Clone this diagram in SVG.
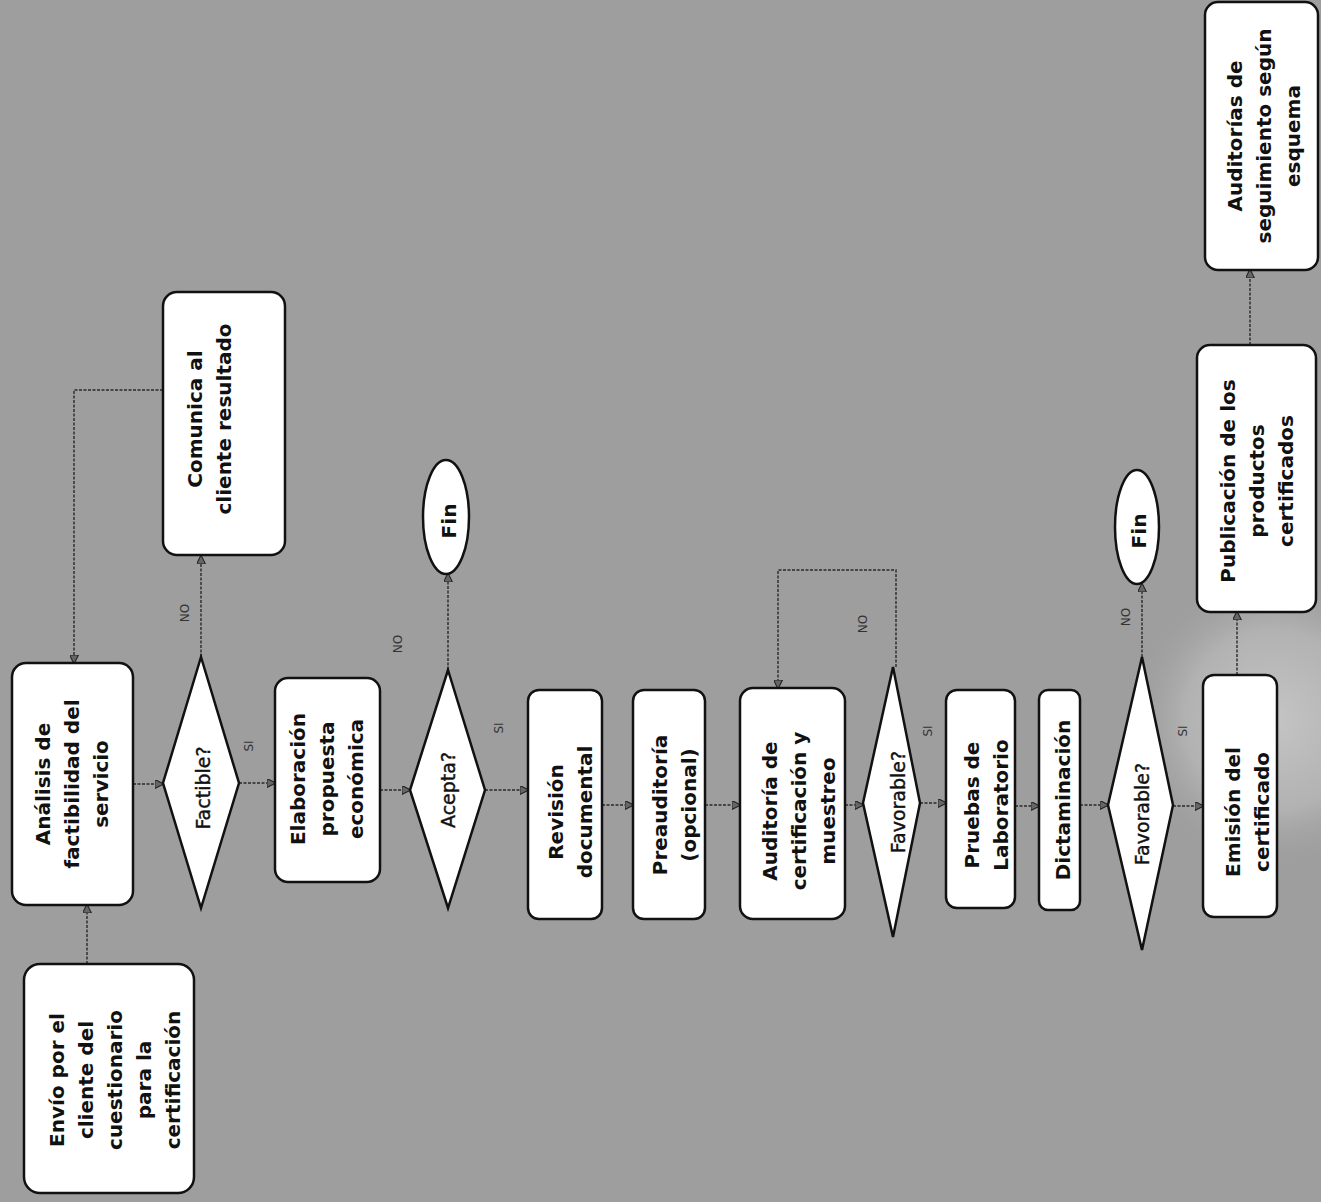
<svg xmlns="http://www.w3.org/2000/svg" width="1321" height="1202" viewBox="0 0 1321 1202">
<defs>
<radialGradient id="blot" cx="1275" cy="720" r="150" gradientUnits="userSpaceOnUse">
<stop offset="0" stop-color="#c4c4c4"/>
<stop offset="0.6" stop-color="#b2b2b2"/>
<stop offset="1" stop-color="#9e9e9e" stop-opacity="0"/>
</radialGradient>
<marker id="arr" viewBox="0 0 10 10" refX="9" refY="5" markerWidth="9" markerHeight="9" orient="auto" markerUnits="userSpaceOnUse">
<path d="M0,0 L10,5 L0,10 Z" fill="#666" stroke="#222" stroke-width="1.2"/>
</marker>
</defs>
<style>
.box{fill:#fff;stroke:#111;stroke-width:2.5}
.t{font-family:"DejaVu Sans","Liberation Sans",sans-serif;font-weight:bold;font-size:20px;fill:#111;text-anchor:middle}
.d{font-family:"DejaVu Sans","Liberation Sans",sans-serif;font-weight:normal;font-size:19px;fill:#111;text-anchor:middle;stroke:#111;stroke-width:0.4}
.lbl{font-family:"DejaVu Sans","Liberation Sans",sans-serif;font-size:12px;fill:#333;text-anchor:middle}
.c{fill:none;stroke:#2a2a2a;stroke-width:1.4;stroke-dasharray:3 1.5;marker-end:url(#arr)}
</style>
<rect x="0" y="0" width="1321" height="1202" fill="#9e9e9e"/>
<rect x="1110" y="560" width="211" height="330" fill="url(#blot)"/>

<g id="connectors">
<path class="c" d="M87,964 V905"/>
<path class="c" d="M133,784 H163"/>
<path class="c" d="M201,657 V556"/>
<path class="c" d="M163,390 H74 V663"/>
<path class="c" d="M239,783 H275"/>
<path class="c" d="M380,790 H410"/>
<path class="c" d="M448,670 V574"/>
<path class="c" d="M485,790 H528"/>
<path class="c" d="M602,805 H633"/>
<path class="c" d="M705,805 H740"/>
<path class="c" d="M845,805 H863"/>
<path class="c" d="M896,667 V570 H778 V688"/>
<path class="c" d="M920,803 H946"/>
<path class="c" d="M1015,806 H1039"/>
<path class="c" d="M1080,805 H1108"/>
<path class="c" d="M1142,657 V584"/>
<path class="c" d="M1173,806 H1203"/>
<path class="c" d="M1237,675 V612"/>
<path class="c" d="M1250,345 V270"/>
<text class="lbl" transform="rotate(-90 185 613)" x="185" y="617">NO</text>
<text class="lbl" transform="rotate(-90 249 746)" x="249" y="750">SI</text>
<text class="lbl" transform="rotate(-90 398 644)" x="398" y="648">NO</text>
<text class="lbl" transform="rotate(-90 499 728)" x="499" y="732">SI</text>
<text class="lbl" transform="rotate(-90 863 624)" x="863" y="628">NO</text>
<text class="lbl" transform="rotate(-90 928 731)" x="928" y="735">SI</text>
<text class="lbl" transform="rotate(-90 1126 617)" x="1126" y="621">NO</text>
<text class="lbl" transform="rotate(-90 1183 731)" x="1183" y="735">SI</text>
</g>

<g id="envio">
<rect class="box" x="24" y="964" width="170" height="229" rx="16"/>
<text class="t" transform="rotate(-90 115 1080)" x="115" y="1080"><tspan x="115" dy="-51">Envío por el</tspan><tspan x="115" dy="29">cliente del</tspan><tspan x="115" dy="29">cuestionario</tspan><tspan x="115" dy="29">para la</tspan><tspan x="115" dy="29">certificación</tspan></text>
</g>

<g id="analisis">
<rect class="box" x="12" y="663" width="121" height="242" rx="14"/>
<text class="t" transform="rotate(-90 72 784)" x="72" y="784"><tspan x="72" dy="-22">Análisis de</tspan><tspan x="72" dy="29">factibilidad del</tspan><tspan x="72" dy="29">servicio</tspan></text>
</g>

<g id="factible">
<polygon class="box" points="201,657 239,783 201,908 163,783"/>
<text class="d" transform="rotate(-90 203 788)" x="203" y="795">Factible?</text>
</g>

<g id="comunica">
<rect class="box" x="163" y="292" width="122" height="263" rx="14"/>
<text class="t" transform="rotate(-90 210 419)" x="210" y="419"><tspan x="210" dy="-8">Comunica al</tspan><tspan x="210" dy="29">cliente resultado</tspan></text>
</g>

<g id="elaboracion">
<rect class="box" x="275" y="678" width="105" height="204" rx="13"/>
<text class="t" transform="rotate(-90 327 779)" x="327" y="779"><tspan x="327" dy="-22">Elaboración</tspan><tspan x="327" dy="29">propuesta</tspan><tspan x="327" dy="29">económica</tspan></text>
</g>

<g id="acepta">
<polygon class="box" points="448,670 485,790 448,908 410,790"/>
<text class="d" transform="rotate(-90 448 790)" x="448" y="797">Acepta?</text>
</g>

<g id="fin1">
<ellipse class="box" cx="446" cy="517" rx="23" ry="57"/>
<text class="t" transform="rotate(-90 449 521)" x="449" y="528">Fin</text>
</g>

<g id="revision">
<rect class="box" x="528" y="690" width="74" height="229" rx="11"/>
<text class="t" transform="rotate(-90 571 812)" x="571" y="812"><tspan x="571" dy="-8">Revisión</tspan><tspan x="571" dy="29">documental</tspan></text>
</g>

<g id="preauditoria">
<rect class="box" x="633" y="690" width="72" height="229" rx="11"/>
<text class="t" transform="rotate(-90 675 805)" x="675" y="805"><tspan x="675" dy="-8">Preauditoría</tspan><tspan x="675" dy="29">(opcional)</tspan></text>
</g>

<g id="auditoria">
<rect class="box" x="740" y="688" width="105" height="231" rx="13"/>
<text class="t" transform="rotate(-90 799 811)" x="799" y="811"><tspan x="799" dy="-22">Auditoría de</tspan><tspan x="799" dy="29">certificación y</tspan><tspan x="799" dy="29">muestreo</tspan></text>
</g>

<g id="favorable1">
<polygon class="box" points="893,667 920,803 893,937 863,803"/>
<text class="d" transform="rotate(-90 898 802)" x="898" y="809">Favorable?</text>
</g>

<g id="pruebas">
<rect class="box" x="946" y="690" width="69" height="218" rx="11"/>
<text class="t" transform="rotate(-90 987 805)" x="987" y="805"><tspan x="987" dy="-8">Pruebas de</tspan><tspan x="987" dy="29">Laboratorio</tspan></text>
</g>

<g id="dictaminacion">
<rect class="box" x="1039" y="690" width="41" height="220" rx="9"/>
<text class="t" transform="rotate(-90 1063 800)" x="1063" y="807">Dictaminación</text>
</g>

<g id="favorable2">
<polygon class="box" points="1142,657 1173,805 1142,950 1108,805"/>
<text class="d" transform="rotate(-90 1142 814)" x="1142" y="821">Favorable?</text>
</g>

<g id="fin2">
<ellipse class="box" cx="1137" cy="527" rx="22" ry="57"/>
<text class="t" transform="rotate(-90 1139 531)" x="1139" y="538">Fin</text>
</g>

<g id="emision">
<rect class="box" x="1203" y="675" width="74" height="242" rx="11"/>
<text class="t" transform="rotate(-90 1248 812)" x="1248" y="812"><tspan x="1248" dy="-8">Emisión del</tspan><tspan x="1248" dy="29">certificado</tspan></text>
</g>

<g id="publicacion">
<rect class="box" x="1197" y="345" width="119" height="267" rx="13"/>
<text class="t" transform="rotate(-90 1257 481)" x="1257" y="481"><tspan x="1257" dy="-22">Publicación de los</tspan><tspan x="1257" dy="29">productos</tspan><tspan x="1257" dy="29">certificados</tspan></text>
</g>

<g id="auditorias">
<rect class="box" x="1205" y="2" width="113" height="268" rx="13"/>
<text class="t" transform="rotate(-90 1264 136)" x="1264" y="136"><tspan x="1264" dy="-22">Auditorías de</tspan><tspan x="1264" dy="29">seguimiento según</tspan><tspan x="1264" dy="29">esquema</tspan></text>
</g>
</svg>
